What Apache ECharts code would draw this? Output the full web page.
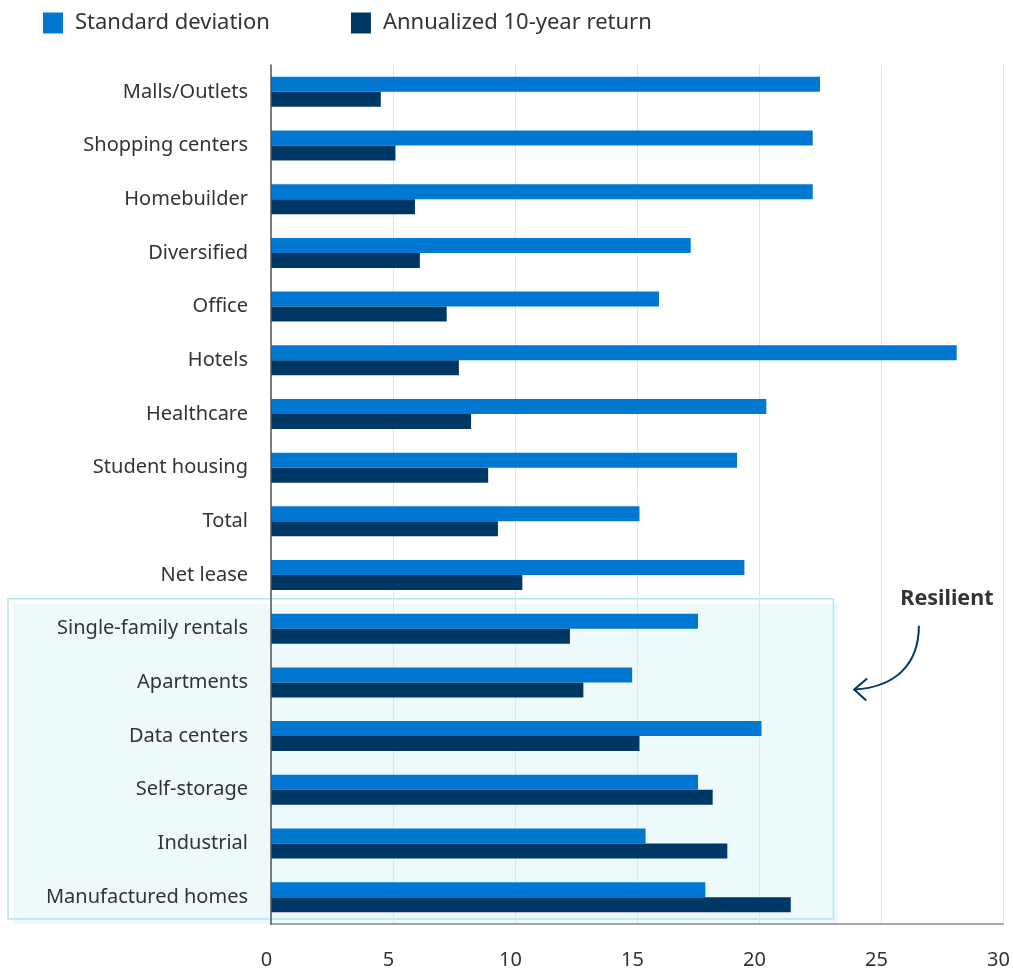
<!DOCTYPE html>
<html>
<head>
<meta charset="utf-8">
<script src="https://cdn.jsdelivr.net/npm/echarts@6/dist/echarts.min.js"></script>
<style>
html,body{margin:0;padding:0;background:#fff;}
#main{width:1013px;height:970px;}
</style>
</head>
<body>
<div id="main"></div>
<script>
const categories = ["Malls/Outlets","Shopping centers","Homebuilder","Diversified","Office","Hotels","Healthcare","Student housing","Total","Net lease","Single-family rentals","Apartments","Data centers","Self-storage","Industrial","Manufactured homes"];
const stdDev = [22.5,22.2,22.2,17.2,15.9,28.1,20.3,19.1,15.1,19.4,17.5,14.8,20.1,17.5,15.35,17.8];
const annReturn = [4.5,5.1,5.9,6.1,7.2,7.7,8.2,8.9,9.3,10.3,12.25,12.8,15.1,18.1,18.7,21.3];
const xTicks = [0,5,10,15,20,25,30];
const seriesNames = ["Standard deviation","Annualized 10-year return"];

const FONT = "Noto Sans";
const chart = echarts.init(document.getElementById('main'));
const option = {
  animation:false,
  textStyle:{fontFamily:FONT},
  legend:{
    left:43, top:12, padding:0, icon:'rect', itemWidth:20, itemHeight:21, itemGap:81,
    textStyle:{fontSize:22, color:'#333', fontFamily:FONT, padding:[0,0,0,7]},
    data:seriesNames
  },
  grid:{left:271, right:9, top:65, bottom:44, containLabel:false},
  xAxis:{
    type:'value', min:0, max:30, interval:5,
    axisLine:{show:true, lineStyle:{color:'#8a8a8a', width:1.5}},
    axisTick:{show:false},
    axisLabel:{fontSize:20, color:'#333', margin:26, fontFamily:FONT, padding:[0,9,0,0],
      formatter:v=> xTicks.includes(v)? String(v):''},
    splitLine:{show:true, lineStyle:{color:'#e3e3e3', width:1}}
  },
  yAxis:{
    type:'category', data:categories, inverse:true,
    axisLine:{show:true, lineStyle:{color:'#555', width:1.5}},
    axisTick:{show:false},
    axisLabel:{fontSize:20, color:'#333', margin:23, fontFamily:FONT},
    z:10
  },
  series:[
    {name:seriesNames[0], type:'bar', data:stdDev, barWidth:15, barGap:'0%', itemStyle:{color:'#0078d2'}, z:5},
    {name:seriesNames[1], type:'bar', data:annReturn, barWidth:15, barGap:'0%', itemStyle:{color:'#003865'}, z:5}
  ]
};
chart.setOption(option);

function drawAnnotations(){
  const gridH = 970 - 65 - 44;
  const band = gridH / categories.length;
  const ySF = chart.convertToPixel({yAxisIndex:0}, categories[10]);
  const yApt = chart.convertToPixel({yAxisIndex:0}, categories[11]);
  const yBottom = chart.convertToPixel({yAxisIndex:0}, categories[15]) + band/2;
  const top = ySF - band/2 - 3;
  const bottom = yBottom - 5;
  const left = 8;
  const right = chart.convertToPixel({xAxisIndex:0}, 23.05);
  const tx = chart.convertToPixel({xAxisIndex:0}, 27.7);
  const sx = chart.convertToPixel({xAxisIndex:0}, 26.55);
  const ex = chart.convertToPixel({xAxisIndex:0}, 23.9);
  const sy = top + 27;
  const ey = yApt + 7;
  chart.setOption({
    graphic:[
      {type:'rect', shape:{x:left+5, y:top+5, width:right-left, height:bottom-top}, style:{fill:'#eef9fc'}, z:-10, silent:true},
      {type:'rect', shape:{x:left, y:top, width:right-left, height:bottom-top}, style:{fill:'none', stroke:'#b3e3f7', lineWidth:1.5}, z:-9, silent:true},
      {type:'text', x:tx, y:top, style:{text:'Resilient', font:'bold 21.5px "Noto Sans"', fill:'#333', align:'center', verticalAlign:'middle'}, z:20},
      {type:'bezierCurve', shape:{x1:sx, y1:sy, x2:ex, y2:ey, cpx1:sx, cpy1:sy+40, cpx2:sx-25, cpy2:ey-2}, style:{stroke:'#003865', lineWidth:2, fill:'none'}, z:20},
      {type:'polyline', shape:{points:[[ex+13,ey-11],[ex,ey],[ex+12,ey+11]]}, style:{stroke:'#003865', lineWidth:2, fill:'none'}, z:20}
    ]
  });
}
drawAnnotations();
</script>
</body>
</html>
